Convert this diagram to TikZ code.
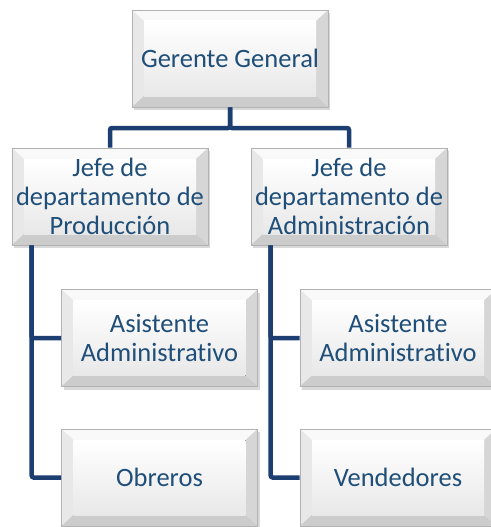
\documentclass[tikz,border=0pt]{standalone}
\usepackage{fontspec}
\setmainfont{Carlito}[Ligatures=NoCommon]
\usepackage{xcolor}
\usepackage{tikz}
\usetikzlibrary{shadows}
\definecolor{azultexto}{RGB}{31,78,121}
\definecolor{azullinea}{RGB}{28,62,112}
\tikzset{
  cargo/.style={rectangle, minimum width=196pt, minimum height=97pt, inner sep=2pt,
    align=center, text=azultexto, font=\fontsize{26.5}{29}\selectfont,
    draw=gray!60, line width=0.6pt,
    drop shadow={shadow xshift=2pt, shadow yshift=-3pt, fill=gray!60, opacity=0.5},
    path picture={
      \coordinate (bnw) at (path picture bounding box.north west);
      \coordinate (bne) at (path picture bounding box.north east);
      \coordinate (bsw) at (path picture bounding box.south west);
      \coordinate (bse) at (path picture bounding box.south east);
      \fill[top color=white, bottom color=gray!22] (bnw) rectangle (bse);
      \fill[gray!5] (bnw) -- (bne) -- ([shift={(-12pt,-11pt)}]bne) -- ([shift={(12pt,-11pt)}]bnw) -- cycle;
      \fill[gray!18] (bnw) -- ([shift={(12pt,-11pt)}]bnw) -- ([shift={(12pt,11pt)}]bsw) -- (bsw) -- cycle;
      \fill[gray!32] (bne) -- ([shift={(-12pt,-11pt)}]bne) -- ([shift={(-12pt,11pt)}]bse) -- (bse) -- cycle;
      \fill[gray!40] (bsw) -- ([shift={(12pt,11pt)}]bsw) -- ([shift={(-12pt,11pt)}]bse) -- (bse) -- cycle;
      \fill[top color=white, bottom color=gray!18] ([shift={(12pt,-11pt)}]bnw) rectangle ([shift={(-12pt,11pt)}]bse);
    }},
  conector/.style={draw=azullinea, line width=4.5pt, rounded corners=2pt}
}

\begin{document}
\begin{tikzpicture}[x=1pt,y=-1pt]
\useasboundingbox (0,0) rectangle (490,527);
% cargos
\node[cargo] (gerente) at (230,58.5) {Gerente General};
\node[cargo] (jefeprod) at (110,196.5) {Jefe de\\departamento de\\Producción};
\node[cargo] (jefeadm) at (349,196.5) {Jefe de\\departamento de\\Administración};
\foreach \nombre/\x/\y/\texto in {asisprod/159.5/338/{Asistente\\Administrativo},
  obreros/159.5/477.5/{Obreros},
  asisadm/398/338/{Asistente\\Administrativo},
  vendedores/398/477.5/{Vendedores}}{
  \node[cargo] (\nombre) at (\x,\y) {\texto};
}
% lineas
\coordinate (rama) at (230,128);
\draw[conector] (gerente.south) -- (rama) -| (jefeprod.north);
\draw[conector] (gerente.south) -- (rama) -| (jefeadm.north);
\draw[conector] ([xshift=20pt]jefeprod.south west) |- (obreros.west);
\draw[conector] ([xshift=20pt]jefeprod.south west) |- (asisprod.west);
\draw[conector] ([xshift=20pt]jefeadm.south west) |- (vendedores.west);
\draw[conector] ([xshift=20pt]jefeadm.south west) |- (asisadm.west);
\end{tikzpicture}
\end{document}
